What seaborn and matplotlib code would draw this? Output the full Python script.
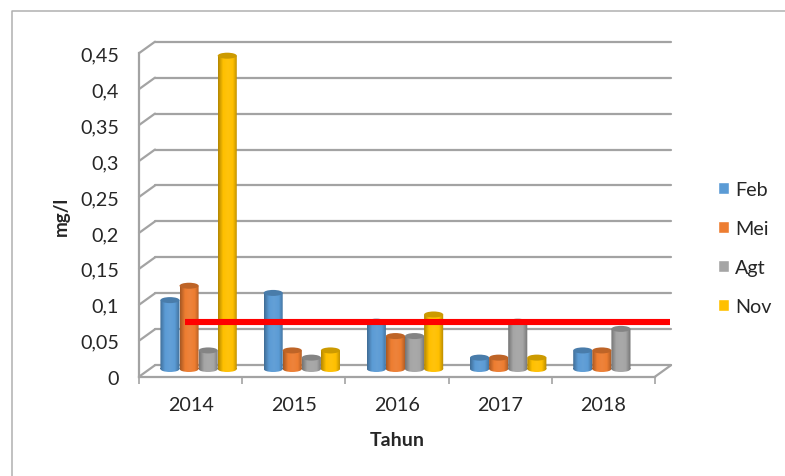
import matplotlib
matplotlib.use('Agg')
import numpy as np
import pandas as pd
import matplotlib.pyplot as plt
import seaborn as sns
from matplotlib.colors import LinearSegmentedColormap, to_rgb
from matplotlib.lines import Line2D
from matplotlib.patches import ConnectionPatch, Ellipse, Rectangle
from matplotlib.path import Path

years = ['2014', '2015', '2016', '2017', '2018']
months = ['Feb', 'Mei', 'Agt', 'Nov']
feb = [0.10, 0.11, 0.07, 0.02, 0.03]
mei = [0.12, 0.03, 0.05, 0.02, 0.03]
agt = [0.03, 0.02, 0.05, 0.07, 0.06]
nov = [0.44, 0.03, 0.08, 0.02, np.nan]
colors = ['#5B9BD5', '#ED7D31', '#A5A5A5', '#FFC000']
limit_value = 0.07
y_ticks = [0, 0.05, 0.1, 0.15, 0.2, 0.25, 0.3, 0.35, 0.4, 0.45]
y_labels = ['0', '0,05', '0,1', '0,15', '0,2', '0,25', '0,3', '0,35', '0,4', '0,45']

W, H = 785, 477
GRAY = '#a3a3a3'
TEXT = '#262626'

sns.set_style('white')
plt.rcParams['font.family'] = ['Lato', 'DejaVu Sans']

fig = plt.figure(figsize=(W / 100, H / 100), dpi=100)


def pixel_axes(left, base, width=516, height=323.5):
    return fig.add_axes([left / W, (H - base) / H, width / W, height / H])


# the fake 3d box: back wall, bars in the middle, front axis
back = pixel_axes(155, 366.2)
front = pixel_axes(139, 377.7)
mid = pixel_axes(147, 373)
for a in (back, front, mid):
    a.set_ylim(0, 0.45)
    a.patch.set_alpha(0)
back.set_zorder(0)
front.set_zorder(1)
mid.set_zorder(2)

back.set_xlim(0, 5)
back.set_yticks(y_ticks)
back.set_xticks([])
back.tick_params(left=False, labelleft=False)
back.grid(axis='y', color=GRAY, lw=1.6)
for line in back.get_ygridlines():
    line.set_clip_on(False)
sns.despine(ax=back, left=True, bottom=True)

front.set_xlim(0, 5)
front.set_yticks(y_ticks)
front.set_yticklabels(y_labels)
front.set_xticks(range(6))
front.set_xticklabels([])
front.set_xticks(np.arange(5) + 0.5, years, minor=True)
front.tick_params(axis='y', length=4.5, width=1.2, color=GRAY, pad=10, labelsize=14.2, labelcolor=TEXT)
front.tick_params(axis='x', which='major', length=5, width=1.2, color=GRAY, bottom=True)
front.tick_params(axis='x', which='minor', length=0, pad=14, labelsize=14.2, labelcolor=TEXT)
sns.despine(ax=front)
for side in ('left', 'bottom'):
    front.spines[side].set_color(GRAY)
    front.spines[side].set_linewidth(1.6)
front.set_xlabel('Tahun', fontsize=14, fontweight='bold', color=TEXT, labelpad=13)
front.set_ylabel('mg/l', fontsize=13.5, fontweight='bold', color=TEXT, labelpad=7)

# depth lines joining the front axis to the wall
for v in y_ticks:
    fig.add_artist(ConnectionPatch((0, v), (0, v), coordsA=front.transData, coordsB=back.transData,
                                   color=GRAY, lw=1.6))
fig.add_artist(ConnectionPatch((5, 0), (5, 0), coordsA=front.transData, coordsB=back.transData,
                               color=GRAY, lw=1.6))

df = pd.DataFrame({'Tahun': years, 'Feb': feb, 'Mei': mei, 'Agt': agt, 'Nov': nov})
long_df = df.melt(id_vars='Tahun', var_name='Bulan', value_name='mg/l')
sns.barplot(data=long_df, x='Tahun', y='mg/l', hue='Bulan', hue_order=months, palette=colors,
            saturation=1, width=0.74, gap=0, ax=mid)
mid.set_xlim(-0.5, 4.5)
mid.set_ylim(0, 0.45)

cap_h = 6 / 718


def shade(color):
    c = np.array(to_rgb(color))
    return LinearSegmentedColormap.from_list('c', [c * 0.7, c, c * 0.95 + 0.05, c, c * 0.7])


for container, color in zip(mid.containers, colors):
    cmap = shade(color)
    for bar in container:
        top = bar.get_height()
        if not top > 0:
            continue
        x0, w = bar.get_x(), bar.get_width()
        bar.set_visible(False)
        # round foot sits inside the bar height, cap on top of it
        foot = Ellipse((x0 + w / 2, cap_h / 2), w, cap_h)
        body = Rectangle((x0, cap_h / 2), w, top - cap_h / 2)
        outline = Path.make_compound_path(body.get_path().transformed(body.get_patch_transform()),
                                          foot.get_path().transformed(foot.get_patch_transform()))
        im = mid.imshow(np.linspace(0, 1, 64)[None, :], cmap=cmap, aspect='auto',
                        extent=(x0, x0 + w, 0, top), zorder=3)
        im.set_clip_path(outline, mid.transData)
        im.set_clip_box(fig.bbox)
        c = np.array(to_rgb(color)) * 0.8
        mid.add_patch(Ellipse((x0 + w / 2, top), w, cap_h, color=c, lw=0, zorder=4, clip_on=False))
mid.set_xlim(-0.5, 4.5)
mid.set_ylim(0, 0.45)

sns.lineplot(x=[-0.135, 4.57], y=[limit_value, limit_value], color='#FF0000', lw=4.4,
             solid_capstyle='butt', zorder=6, ax=mid, clip_on=False)

sns.move_legend(mid, 'center left', bbox_to_anchor=(718 / W, (H - 249) / H),
                bbox_transform=fig.transFigure, title=None, frameon=False, fontsize=14.2,
                labelcolor=TEXT, handlelength=0.56, handleheight=0.56, handletextpad=0.3,
                labelspacing=1.12, borderpad=0, borderaxespad=0)
mid.axis('off')
mid.get_legend().set_visible(True)

# outer chart frame, cut off by the crop on the right and bottom
fig.add_artist(Line2D([12 / W, 12 / W, 1], [0, (H - 12) / H, (H - 12) / H], color='#b0b0b0', lw=1.1))

fig.savefig('out.png', dpi=100)
